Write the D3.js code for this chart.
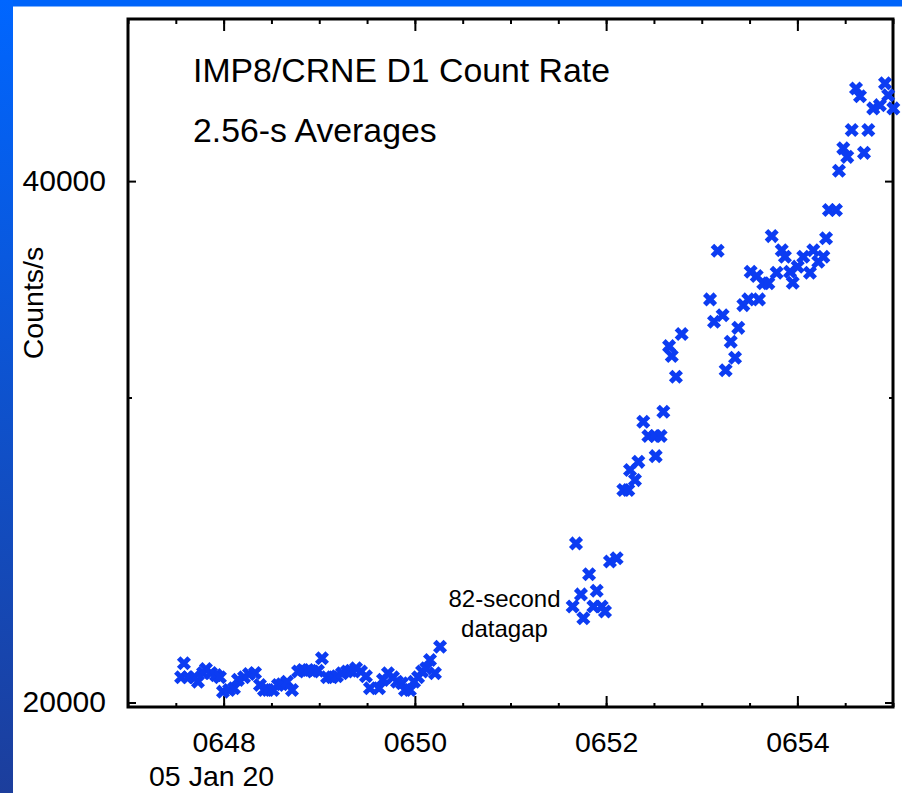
<!DOCTYPE html>
<html>
<head>
<meta charset="utf-8">
<script src="https://cdn.jsdelivr.net/npm/d3@7"></script>
<style>
  body { margin: 0; background: #fff; }
  svg { display: block; }
  text { font-family: "Liberation Sans", Arial, Helvetica, sans-serif; fill: #000; }
</style>
</head>
<body>
<svg id="chart" width="902" height="793"></svg>
<script>
// IMP8/CRNE D1 count rate, 2.56-s averages, 05 Jan 2020 (times in seconds after 06:47:00 UT)
const secsBeforeGap = [
  33.3, 35.1, 37.6, 41.4, 43.9, 47.1, 48.9, 52.1, 55.2, 57.7,
  59.6, 63.4, 66.5, 69.0, 72.8, 75.9, 79.7, 82.8, 85.3, 87.8,
  91.0, 94.1, 96.6, 99.8, 102.9, 106.7, 109.8, 112.9, 116.1, 119.2,
  121.7, 124.9, 128.0, 131.1, 134.3, 137.4, 139.9, 143.1, 146.2, 149.3,
  151.8, 157.5, 160.0, 163.1, 166.3, 168.8, 171.9, 173.8, 176.9, 179.5,
  182.0, 184.5, 187.1, 189.5, 192.6, 195.8
];
const countsBeforeGap = [
  20680, 21070, 20680, 20680, 20560, 20800, 20910, 20800, 20740, 20680,
  20290, 20335, 20380, 20610, 20680, 20770, 20800, 20470, 20335, 20335,
  20335, 20470, 20490, 20560, 20335, 20840, 20880, 20880, 20840, 20860,
  21210, 20680, 20680, 20710, 20790, 20840, 20860, 20930, 20840, 20710,
  20380, 20380, 20610, 20790, 20680, 20560, 20520, 20335, 20335, 20560,
  20680, 20840, 20930, 21160, 20790, 21540
];
const secsAfterGap = [
  279.0, 281.1, 284.2, 285.7, 289.3, 292.0, 294.1, 297.2, 299.3, 302.4,
  306.6, 310.8, 313.9, 315.0, 318.1, 320.2, 323.3, 326.5, 330.7, 331.1,
  334.2, 335.9, 339.5, 341.2, 343.8, 347.4, 365.2, 367.7, 370.0, 373.1,
  375.0, 378.2, 380.9, 382.9, 386.1, 389.2, 390.7, 394.5, 395.9, 398.6,
  401.8, 403.9, 407.0, 410.2, 412.2, 415.4, 417.1, 420.2, 423.7, 427.9,
  430.0, 433.1, 436.3, 438.0, 439.8, 444.2, 446.1, 448.8, 451.3, 454.1,
  456.8, 459.3, 461.8, 464.5, 467.6, 471.8, 475.0, 477.0, 480.2
];
const countsAfterGap = [
  22720, 24710, 23090, 22370, 23720, 22720, 23200, 22720, 22570, 24120,
  24230, 26530, 26530, 27240, 26880, 27540, 29050, 28500, 28500, 27750,
  28500, 29440, 32120, 31700, 30840, 32640, 34180, 33180, 36460, 33470,
  31110, 32310, 31630, 32910, 33920, 34180, 35460, 35260, 34180, 34920,
  34920, 37180, 35410, 36490, 36170, 35460, 34940, 35700, 36170, 35410,
  36490, 35930, 36170, 37070, 38490, 38490, 40550, 41780, 41310, 42810,
  45240, 44780, 41530, 42810, 44060, 44250, 45550, 44840, 44060
];

const xTickLabels = ["0648", "0650", "0652", "0654"];
const yMajorTicks = [20000, 40000];
const yMinorTicks = [30000];
const yTickLabels = ["20000", "40000"];
const titleLines = ["IMP8/CRNE D1 Count Rate", "2.56-s Averages"];
const dateLabel = "05 Jan 20";
const yAxisLabel = "Counts/s";
const gapNote = ["82-second", "datagap"];

const t0 = new Date(2020, 0, 5, 6, 47, 0);
const tEnd = new Date(2020, 0, 5, 6, 55, 0);
const atSec = s => new Date(t0.getTime() + s * 1000);

const data = secsBeforeGap.map((s, i) => ({ t: atSec(s), v: countsBeforeGap[i] }))
  .concat(secsAfterGap.map((s, i) => ({ t: atSec(s), v: countsAfterGap[i] })));

const svg = d3.select("#chart");
const W = 902, H = 793;

// slide background: white panel with blue border strips
const defs = svg.append("defs");
const grad = defs.append("linearGradient").attr("id", "leftBand")
  .attr("x1", 0).attr("y1", 0).attr("x2", 0).attr("y2", 1);
grad.append("stop").attr("offset", "0%").attr("stop-color", "#0066ff");
grad.append("stop").attr("offset", "100%").attr("stop-color", "#1c3e9c");

svg.append("rect").attr("width", W).attr("height", H).attr("fill", "#fff");
svg.append("rect").attr("x", 0).attr("y", 0).attr("width", W).attr("height", 6.5).attr("fill", "#0064fa");
svg.append("rect").attr("x", 0).attr("y", 0).attr("width", 13).attr("height", H).attr("fill", "url(#leftBand)");

const x = d3.scaleTime().domain([t0, tEnd]).range([128, 893]);
const y = d3.scaleLog().domain([19880, 49620]).range([707, 19]);

const [x0, x1] = x.range();
const [yb, yt] = y.range();

const xMajor = d3.timeMinute.every(2).range(atSec(60), atSec(481));
const xMinor = d3.timeSecond.every(30).range(t0, atSec(481));

const styleAxis = size => g => {
  g.select(".domain").remove();
  g.selectAll(".tick line").attr("stroke", "#000").attr("stroke-width", 2);
  g.selectAll(".tick text").attr("font-size", size).attr("fill", "#000");
};

// bottom axis
svg.append("g").attr("transform", `translate(0,${yb})`)
  .call(d3.axisBottom(x).tickValues(xMinor).tickSize(-4).tickFormat(""))
  .call(styleAxis("28.5px"));
svg.append("g").attr("transform", `translate(0,${yb})`)
  .call(d3.axisBottom(x).tickValues(xMajor).tickSize(-11).tickPadding(25)
    .tickFormat((d, i) => xTickLabels[i]))
  .call(styleAxis("28.5px"));

// top axis
svg.append("g").attr("transform", `translate(0,${yt})`)
  .call(d3.axisTop(x).tickValues(xMinor).tickSize(-5).tickFormat(""))
  .call(styleAxis("28.5px"));
svg.append("g").attr("transform", `translate(0,${yt})`)
  .call(d3.axisTop(x).tickValues(xMajor).tickSize(-12).tickFormat(""))
  .call(styleAxis("28.5px"));

// left axis
svg.append("g").attr("transform", `translate(${x0},0)`)
  .call(d3.axisLeft(y).tickValues(yMinorTicks).tickSize(-4).tickFormat(""))
  .call(styleAxis("30px"));
svg.append("g").attr("transform", `translate(${x0},0)`)
  .call(d3.axisLeft(y).tickValues(yMajorTicks).tickSize(-8).tickPadding(22)
    .tickFormat((d, i) => yTickLabels[i]))
  .call(styleAxis("30px"))
  .call(g => g.selectAll(".tick text").attr("dy", "0.3em"));

// right axis
svg.append("g").attr("transform", `translate(${x1},0)`)
  .call(d3.axisRight(y).tickValues(yMinorTicks).tickSize(-4).tickFormat(""))
  .call(styleAxis("30px"));
svg.append("g").attr("transform", `translate(${x1},0)`)
  .call(d3.axisRight(y).tickValues(yMajorTicks).tickSize(-8).tickFormat(""))
  .call(styleAxis("30px"));

// plot frame
svg.append("rect")
  .attr("x", x0).attr("y", yt).attr("width", x1 - x0).attr("height", yb - yt)
  .attr("fill", "none").attr("stroke", "#000").attr("stroke-width", 3);

// data markers (bold x)
svg.append("g").selectAll("path").data(data).join("path")
  .attr("transform", d => `translate(${x(d.t)},${y(d.v)})`)
  .attr("d", "M-3.5,-3.5L3.5,3.5M-3.5,3.5L3.5,-3.5")
  .attr("stroke", "#0c3cf2").attr("stroke-width", 5)
  .attr("stroke-linecap", "square").attr("fill", "none");

// titles
svg.append("g").selectAll("text").data(titleLines).join("text")
  .attr("x", 193).attr("y", (d, i) => 82 + i * 60)
  .attr("font-size", "33.8px").text(d => d);

// date under first major tick
svg.append("text")
  .attr("x", x(xMajor[0]) - 12).attr("y", 786)
  .attr("text-anchor", "middle").attr("font-size", "28.5px").text(dateLabel);

// y-axis title
svg.append("text")
  .attr("transform", `translate(43,303) rotate(-90)`)
  .attr("text-anchor", "middle").attr("font-size", "28.5px").text(yAxisLabel);

// data-gap annotation
svg.append("g").selectAll("text").data(gapNote).join("text")
  .attr("x", 504.5).attr("y", (d, i) => 606.5 + i * 30)
  .attr("text-anchor", "middle").attr("font-size", "24px").text(d => d);
</script>
</body>
</html>
